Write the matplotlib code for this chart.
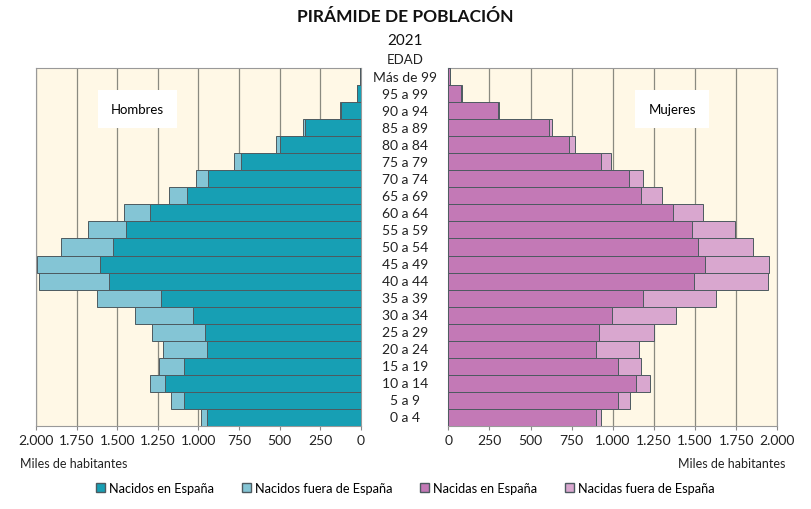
import matplotlib.pyplot as plt
from matplotlib.patches import Patch
from matplotlib.ticker import FuncFormatter

plt.rcParams['font.family'] = ['Lato', 'DejaVu Sans']

ages = ['0 a 4', '5 a 9', '10 a 14', '15 a 19', '20 a 24', '25 a 29', '30 a 34',
        '35 a 39', '40 a 44', '45 a 49', '50 a 54', '55 a 59', '60 a 64', '65 a 69',
        '70 a 74', '75 a 79', '80 a 84', '85 a 89', '90 a 94', '95 a 99', 'Más de 99']

# miles de habitantes
men_born = [946, 1089, 1206, 1089, 946, 960, 1036, 1231, 1549, 1606, 1524,
            1446, 1298, 1073, 940, 738, 498, 345, 125, 24, 4]
men_foreign = [41, 80, 92, 154, 271, 324, 357, 392, 433, 390, 324,
               236, 159, 107, 75, 42, 25, 10, 4, 2, 1]
women_born = [900, 1030, 1139, 1030, 900, 914, 993, 1185, 1494, 1559, 1516,
              1480, 1368, 1171, 1097, 928, 736, 612, 300, 78, 9]
women_foreign = [28, 74, 85, 143, 257, 337, 393, 441, 448, 392, 338,
                 261, 182, 130, 88, 59, 32, 18, 6, 3, 1]

ticks = [0, 250, 500, 750, 1000, 1250, 1500, 1750, 2000]

c_men = '#179fb4'
c_men_f = '#84c5d5'
c_women = '#c379b6'
c_women_f = '#d9a7cf'
bg = '#fff8e6'
edge = '#4d5a60'

fig = plt.figure(figsize=(8.11, 5.10), dpi=100)
ax1 = fig.add_axes([36 / 811, 83 / 510, 325 / 811, 358 / 510])
ax2 = fig.add_axes([448.3 / 811, 83 / 510, 329 / 811, 358 / 510])

y = list(range(len(ages)))
ax1.barh(y, men_born, height=1.0, color=c_men, edgecolor=edge, linewidth=0.7, zorder=3)
ax1.barh(y, men_foreign, left=men_born, height=1.0, color=c_men_f, edgecolor=edge,
         linewidth=0.7, zorder=3)
ax2.barh(y, women_born, height=1.0, color=c_women, edgecolor=edge, linewidth=0.7, zorder=3)
ax2.barh(y, women_foreign, left=women_born, height=1.0, color=c_women_f, edgecolor=edge,
         linewidth=0.7, zorder=3)

fmt = FuncFormatter(lambda v, p: f'{int(v):,}'.replace(',', '.'))
for ax in (ax1, ax2):
    ax.set_facecolor(bg)
    ax.set_ylim(-0.5, len(ages) - 0.5)
    ax.set_xticks(ticks)
    ax.xaxis.set_major_formatter(fmt)
    ax.set_yticks([])
    ax.grid(axis='x', color='#8a8a80', linewidth=0.9, zorder=1)
    ax.tick_params(axis='x', length=3, color='#888888', labelsize=10, pad=3,
                   labelcolor='#222222')
    for s in ax.spines.values():
        s.set_color('#999999')
        s.set_linewidth(0.8)
ax1.set_xlim(2000, 0)
ax2.set_xlim(0, 2000)

# age labels centred between the two halves
for i, a in enumerate(ages):
    ax2.text(-0.1316, i, a, transform=ax2.get_yaxis_transform(), ha='center',
             va='center', fontsize=10, color='#222222')
ax2.text(-0.1316, len(ages) - 0.35, 'EDAD', transform=ax2.get_yaxis_transform(),
         ha='center', va='bottom', fontsize=9.5, color='#222222')

ax1.text(0.312, 0.885, 'Hombres', transform=ax1.transAxes, ha='center', va='center',
         fontsize=9.5, bbox=dict(boxstyle='square,pad=1.0', facecolor='white',
                                 edgecolor='none'), zorder=5)
ax2.text(0.68, 0.885, 'Mujeres', transform=ax2.transAxes, ha='center', va='center',
         fontsize=9.5, bbox=dict(boxstyle='square,pad=1.0', facecolor='white',
                                 edgecolor='none'), zorder=5)

fig.text(0.5, 1 - 17 / 510, 'PIRÁMIDE DE POBLACIÓN', ha='center', va='center',
         fontsize=12.5, fontweight='bold', color='#111111')
fig.text(0.5, 1 - 41 / 510, '2021', ha='center', va='center', fontsize=11,
         color='#111111')

fig.text(20 / 811, 1 - 464 / 510, 'Miles de habitantes', ha='left', va='center',
         fontsize=9, color='#222222')
fig.text(785 / 811, 1 - 464 / 510, 'Miles de habitantes', ha='right', va='center',
         fontsize=9, color='#222222')

handles = [Patch(facecolor=c_men, edgecolor=edge, label='Nacidos en España'),
           Patch(facecolor=c_men_f, edgecolor=edge, label='Nacidos fuera de España'),
           Patch(facecolor=c_women, edgecolor=edge, label='Nacidas en España'),
           Patch(facecolor=c_women_f, edgecolor=edge, label='Nacidas fuera de España')]
fig.legend(handles=handles, loc='center', bbox_to_anchor=(0.5, 1 - 489 / 510), ncol=4,
           frameon=False, fontsize=9.2, handlelength=0.7, handleheight=0.7,
           handletextpad=0.3, columnspacing=2.2)

fig.savefig('out.png', dpi=100)
